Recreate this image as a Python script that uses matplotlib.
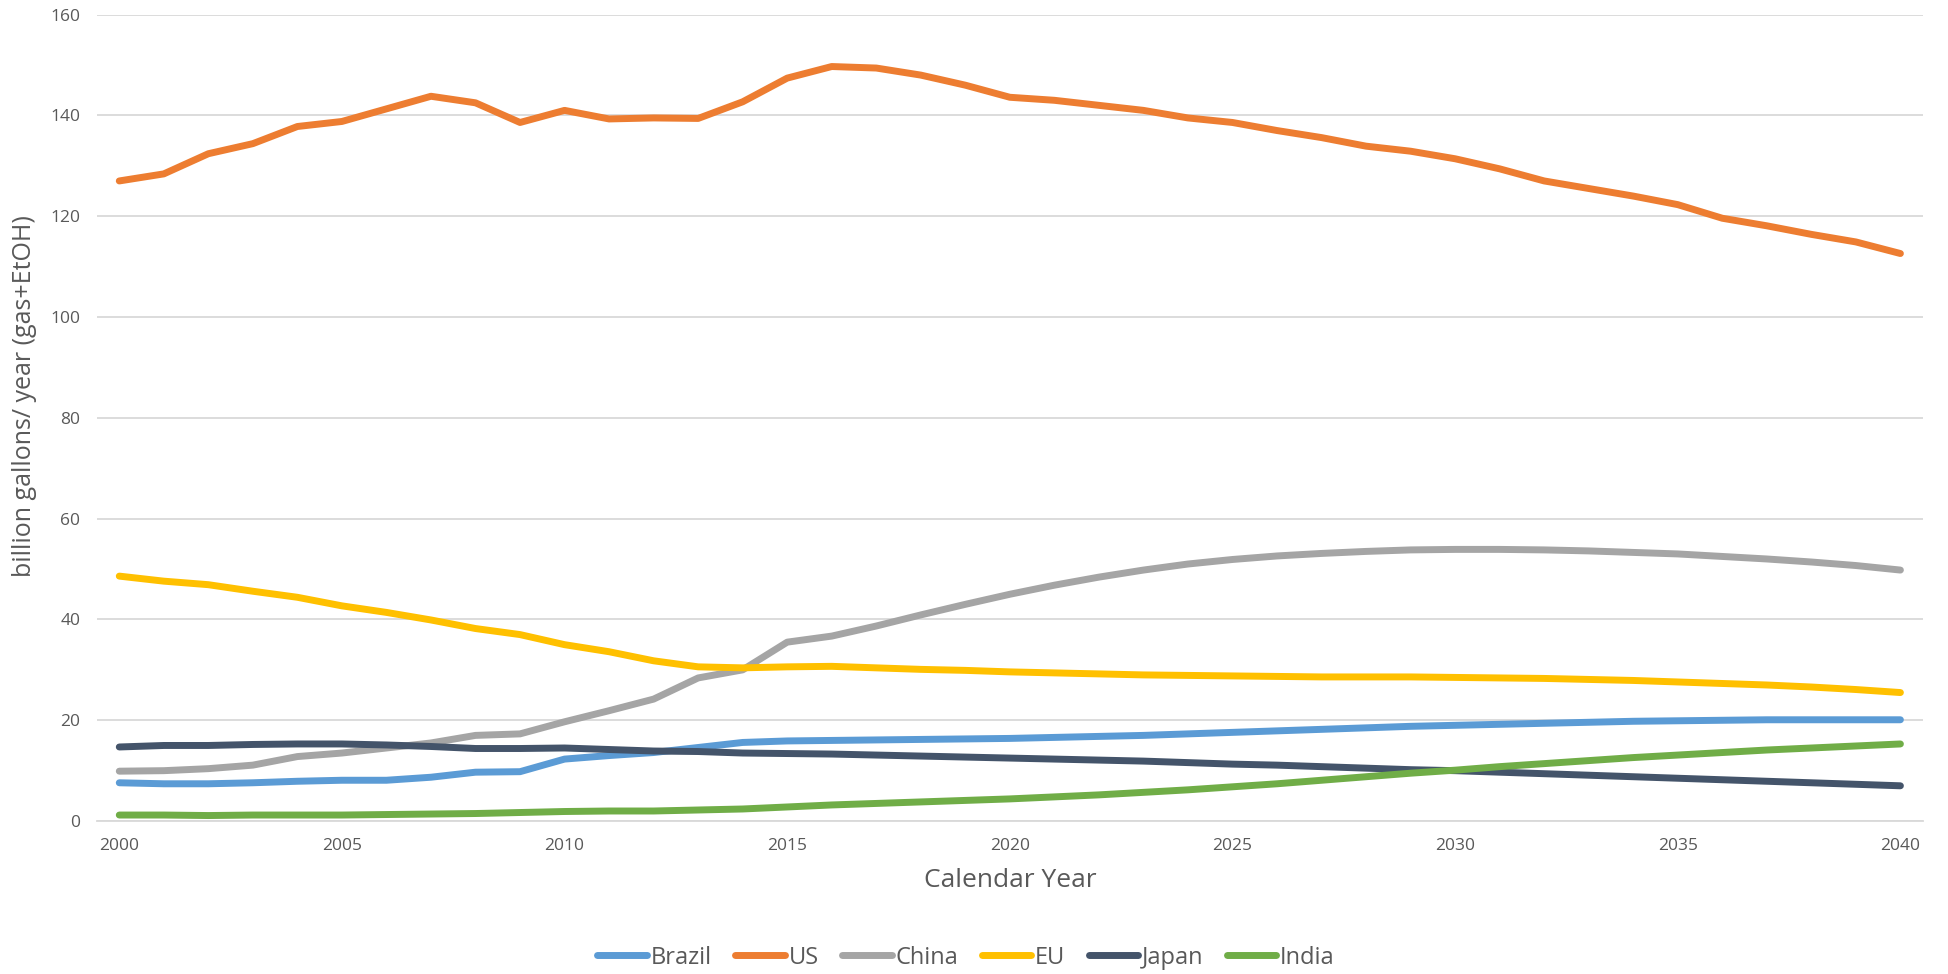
import numpy as np
import matplotlib.pyplot as plt

# Data
years = np.arange(2000, 2041)

brazil = [7.6, 7.4, 7.4, 7.6, 7.9, 8.1, 8.1, 8.7, 9.7, 9.8,
          12.3, 13.0, 13.6, 14.6, 15.6, 15.9, 16.0, 16.1, 16.2, 16.3,
          16.4, 16.6, 16.8, 17.0, 17.3, 17.6, 17.9, 18.2, 18.5, 18.8,
          19.0, 19.2, 19.4, 19.6, 19.8, 19.9, 20.0, 20.1, 20.1, 20.1, 20.1]
us = [127.0, 128.4, 132.4, 134.4, 137.8, 138.8, 141.3, 143.8, 142.5, 138.6,
      141.0, 139.3, 139.5, 139.4, 142.7, 147.4, 149.7, 149.4, 148.0, 146.0,
      143.6, 143.0, 142.0, 141.0, 139.5, 138.6, 137.0, 135.6, 133.9, 132.9,
      131.4, 129.4, 127.0, 125.5, 124.0, 122.3, 119.6, 118.1, 116.4, 114.9, 112.6]
china = [9.9, 10.0, 10.4, 11.1, 12.8, 13.5, 14.5, 15.5, 17.0, 17.3,
         19.7, 21.9, 24.2, 28.4, 30.0, 35.5, 36.7, 38.7, 40.9, 43.0,
         45.0, 46.8, 48.4, 49.8, 51.0, 51.9, 52.6, 53.1, 53.5, 53.8,
         53.9, 53.9, 53.8, 53.6, 53.3, 53.0, 52.5, 52.0, 51.4, 50.7, 49.8]
eu = [48.6, 47.6, 46.9, 45.6, 44.4, 42.7, 41.4, 39.9, 38.2, 37.0,
      35.0, 33.6, 31.8, 30.6, 30.4, 30.6, 30.7, 30.4, 30.1, 29.9,
      29.6, 29.4, 29.2, 29.0, 28.9, 28.8, 28.7, 28.6, 28.6, 28.6,
      28.5, 28.4, 28.3, 28.1, 27.9, 27.6, 27.3, 27.0, 26.6, 26.1, 25.5]
japan = [14.7, 15.0, 15.0, 15.2, 15.3, 15.3, 15.1, 14.8, 14.4, 14.4,
         14.5, 14.2, 13.9, 13.8, 13.5, 13.4, 13.3, 13.1, 12.9, 12.7,
         12.5, 12.3, 12.1, 11.9, 11.6, 11.3, 11.1, 10.8, 10.5, 10.2,
         10.0, 9.7, 9.4, 9.1, 8.8, 8.5, 8.2, 7.9, 7.6, 7.3, 7.0]
india = [1.2, 1.2, 1.1, 1.2, 1.2, 1.2, 1.3, 1.4, 1.5, 1.7,
         1.9, 2.0, 2.0, 2.2, 2.4, 2.8, 3.2, 3.5, 3.8, 4.1,
         4.4, 4.8, 5.2, 5.7, 6.2, 6.8, 7.4, 8.1, 8.8, 9.5,
         10.1, 10.8, 11.4, 12.0, 12.6, 13.1, 13.6, 14.1, 14.5, 14.9, 15.3]

series = [("Brazil", brazil, "#5B9BD5"),
          ("US", us, "#ED7D31"),
          ("China", china, "#A5A5A5"),
          ("EU", eu, "#FFC000"),
          ("Japan", japan, "#44546A"),
          ("India", india, "#70AD47")]

font = ["Open Sans", "DejaVu Sans"]
txt_col = "#595959"

fig = plt.figure(figsize=(19.48, 9.74), dpi=100)
ax = fig.add_axes([0.0498, 0.157, 0.9372, 0.828])

for name, vals, col in series:
    ax.plot(years, vals, color=col, lw=5, label=name,
            solid_capstyle="round", solid_joinstyle="round")

ax.set_xlim(1999.5, 2040.5)
ax.set_ylim(0, 160)
ax.set_xticks(np.arange(2000, 2041, 5))
ax.set_yticks(np.arange(0, 161, 20))
ax.grid(axis="y", color="#D9D9D9", lw=1.3)
ax.set_axisbelow(True)
for s in ["top", "right", "left"]:
    ax.spines[s].set_visible(False)
ax.spines["bottom"].set_color("#D9D9D9")
ax.spines["bottom"].set_linewidth(1.3)
ax.tick_params(length=0, labelsize=12.5, labelcolor=txt_col, pad=12)
for lab in ax.get_xticklabels() + ax.get_yticklabels():
    lab.set_family(font)

ax.set_xlabel("Calendar Year", fontsize=19, color=txt_col, family=font, labelpad=10)
ax.set_ylabel("billion gallons/ year (gas+EtOH)", fontsize=18, color=txt_col,
              family=font)
ax.yaxis.set_label_coords(-0.033, 0.527)

leg = ax.legend(loc="upper center", bbox_to_anchor=(0.476, -0.128), ncol=6,
                frameon=False, handlelength=2.1, handletextpad=0.15,
                columnspacing=1.0, prop={"family": font, "size": 17})
for t in leg.get_texts():
    t.set_color(txt_col)

fig.savefig("out.png", dpi=100)
